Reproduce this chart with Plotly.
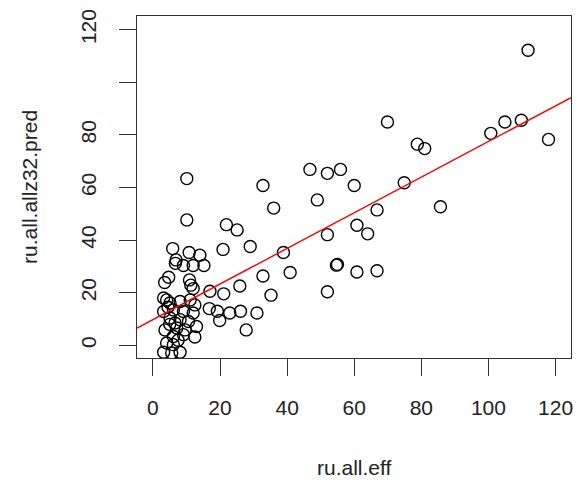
import plotly.graph_objects as go

# ru.all.eff (x) and ru.all.allz32.pred (y)
eff = [111.8, 69.9, 100.7, 104.9, 109.8, 117.9, 78.8, 81.0, 74.9, 85.7,
       46.8, 52.0, 55.9, 60.0, 49.0, 66.8, 60.8, 64.0, 52.0, 54.7, 55.0,
       60.8, 66.8, 52.0, 32.8, 36.0, 10.1, 10.1, 21.9, 25.1, 20.9, 29.0,
       38.9, 32.8, 40.9, 35.2, 25.9, 21.1, 17.0, 31.0, 26.1, 22.9, 27.8,
       16.8, 19.2, 19.9, 5.9, 10.8, 14.0, 6.9, 6.7, 9.1, 12.0, 15.2,
       4.7, 3.5, 10.9, 11.3, 12.0,
       3.2, 4.1, 5.1, 8.1, 6.1, 3.2, 9.1, 12.5, 12.0, 5.1, 8.1, 7.1, 13.0,
       3.6, 9.6, 6.1, 12.5, 9.1, 4.1, 6.1, 3.2, 5.6, 8.1, 11.1, 6.6, 10.6,
       4.5, 7.5, 5.0]
pred = [112.2, 84.9, 80.6, 84.9, 85.6, 78.3, 76.5, 74.8, 61.8, 52.7,
        66.9, 65.4, 66.9, 60.8, 55.3, 51.5, 45.7, 42.4, 42.1, 30.5, 30.8,
        27.9, 28.4, 20.4, 60.8, 52.2, 63.4, 47.7, 45.9, 43.9, 36.5, 37.6,
        35.3, 26.4, 27.7, 19.1, 22.6, 19.6, 20.6, 12.3, 13.0, 12.3, 5.9,
        14.0, 13.0, 9.5, 36.8, 35.3, 34.3, 32.5, 31.2, 30.4, 30.4, 30.4,
        25.9, 23.9, 24.9, 22.9, 21.6,
        18.0, 17.3, 16.1, 16.7, 13.5, 12.9, 12.9, 15.4, 12.3, 10.4, 9.8, 6.6, 7.2,
        5.9, 5.9, 3.4, 3.2, 4.1, 0.9, 0.3, -2.6, -2.9, -2.6, 17.3, 8.5, 9.1,
        14.5, 2.0, 8.0]

# abline coefficients (intercept, slope)
fit_coef = [9.8, 0.677]

tick_vals = [0, 20, 40, 60, 80, 100, 120]
x_tick_text = ["0", "20", "40", "60", "80", "100", "120"]
y_tick_text = ["0", "20", "40", "60", "80", "", "120"]

x_range = [-4.74, 124.6]
y_range = [-4.78, 125.2]

font = "Liberation Sans, Arial, sans-serif"

fig = go.Figure()
fig.add_trace(go.Scatter(
    x=eff, y=pred, mode="markers",
    marker=dict(symbol="circle-open", size=12, color="black",
                line=dict(width=1.4, color="black")),
    showlegend=False, hoverinfo="x+y"))

line_x = x_range
line_y = [fit_coef[0] + fit_coef[1] * v for v in line_x]
fig.add_trace(go.Scatter(
    x=line_x, y=line_y, mode="lines",
    line=dict(color="#ff0000", width=1.4),
    showlegend=False, hoverinfo="skip"))

axis_common = dict(
    showgrid=False, zeroline=False, showline=True, mirror=True,
    linecolor="#333333", linewidth=1.2,
    ticks="outside", ticklen=17, tickwidth=1.2, tickcolor="#333333",
    tickfont=dict(family=font, size=21, color="#222222"),
)

fig.update_layout(
    width=582, height=485,
    margin=dict(l=136.7, r=8.7, t=15.7, b=126.7),
    paper_bgcolor="white", plot_bgcolor="white",
    xaxis=dict(range=x_range, tickmode="array", tickvals=tick_vals,
               ticktext=x_tick_text, ticklabelstandoff=14, **axis_common),
    yaxis=dict(range=y_range, tickmode="array", tickvals=tick_vals,
               ticktext=y_tick_text, tickangle=-90, ticklabelstandoff=15,
               **axis_common),
    annotations=[
        dict(text="ru.all.eff", xref="paper", yref="paper", x=0.5, y=-0.32,
             xanchor="center", yanchor="middle", showarrow=False,
             font=dict(family=font, size=21, color="#222222")),
        dict(text="ru.all.allz32.pred", xref="paper", yref="paper",
             x=-0.249, y=0.5, xanchor="center", yanchor="middle",
             textangle=-90, showarrow=False,
             font=dict(family=font, size=21, color="#222222")),
    ],
)

fig.write_html("out.html")
